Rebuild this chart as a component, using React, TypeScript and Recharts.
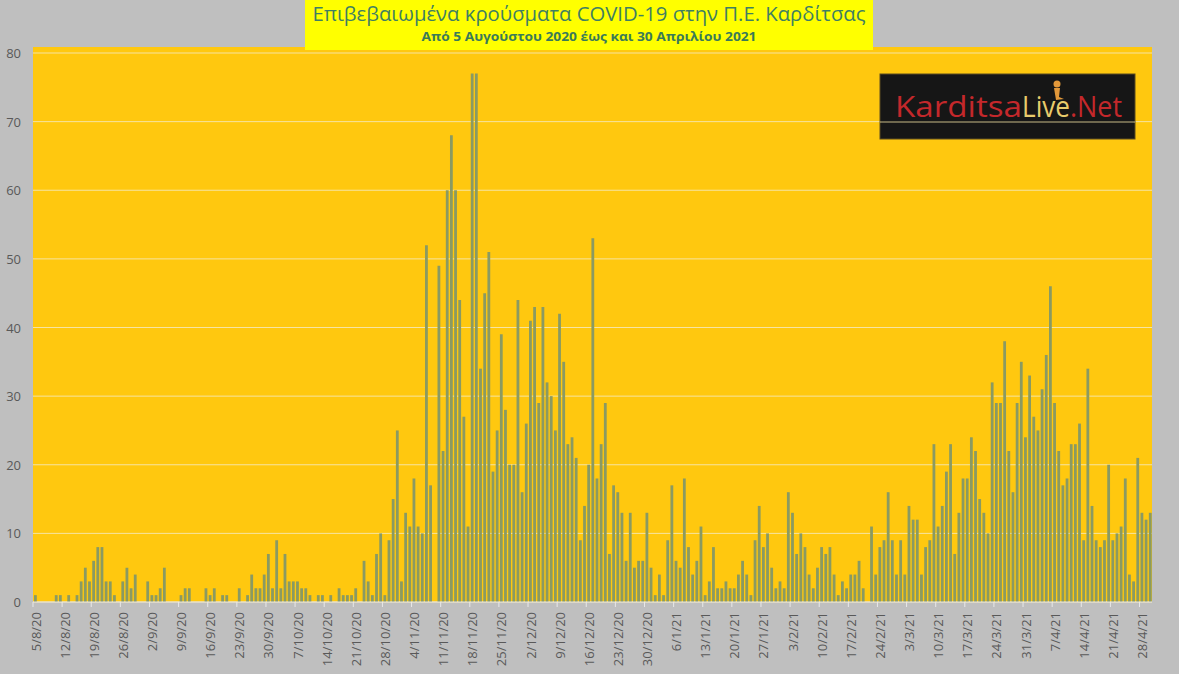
import React from 'react';
import { BarChart, Bar, XAxis, YAxis, CartesianGrid } from 'recharts';

// Daily confirmed cases, one array per month
const aug20 = [1,0,0,0,0, 1,1,0,1,0, 1,3,5,3,6, 8,8,3,3,1, 0,3,5,2,4, 0,0];
const sep20 = [3,1,1,2,5, 0,0,0,1,2, 2,0,0,0,2, 1,2,0,1,1, 0,0,2,0,1, 4,2,2,4,7];
const oct20 = [2,9,2,7,3, 3,3,2,2,1, 0,1,1,0,1, 0,2,1,1,1, 2,0,6,3,1, 7,10,1,9,15, 25];
const nov20 = [3,13,11,18,11, 10,52,17,0,49, 22,60,68,60,44, 27,11,77,77,34, 45,51,19,25,39, 28,20,20,44,16];
const dec20 = [26,41,43,29,43, 32,30,25,42,35, 23,24,21,9,14, 20,53,18,23,29, 7,17,16,13,6, 13,5,6,6,13, 5];
const jan21 = [1,4,1,9,17, 6,5,18,8,4, 6,11,1,3,8, 2,2,3,2,2, 4,6,4,1,9, 14,8,10,5,2, 3];
const feb21 = [2,16,13,7,10, 8,4,2,5,8, 7,8,4,1,3, 2,4,4,6,2, 0,11,4,8,9, 16,9,4];
const mar21 = [9,4,14,12,12, 4,8,9,23,11, 14,19,23,7,13, 18,18,24,22,15, 13,10,32,29,29, 38,22,16,29,35, 24];
const apr21 = [33,27,25,31,36, 46,29,22,17,18, 23,23,26,9,34, 14,9,8,9,20, 9,10,11,18,4, 3,21,13,12,13];

// Month keys for the date categories and the first day shown in each month
const monthKeys = ['8/20', '9/20', '10/20', '11/20', '12/20', '1/21', '2/21', '3/21', '4/21'];
const firstDays = [5, 1, 1, 1, 1, 1, 1, 1, 1];
const monthValues = [aug20, sep20, oct20, nov20, dec20, jan21, feb21, mar21, apr21];

const yTicks = [0, 10, 20, 30, 40, 50, 60, 70, 80];

const TITLE = 'Επιβεβαιωμένα κρούσματα COVID-19 στην Π.Ε. Καρδίτσας';
const SUBTITLE = 'Από 5 Αυγούστου 2020 έως και 30 Απριλίου 2021';

const data = monthValues.flatMap((vals, m) =>
  vals.map((v, i) => ({ date: `${firstDays[m] + i}/${monthKeys[m]}`, cases: v }))
);

const W = 1179;
const H = 674;
const PLOT_TOP = 53;
const PLOT_LEFT = 33;
const PLOT_RIGHT = 1152;
const PLOT_BOTTOM = 602;
const BAND = (PLOT_RIGHT - PLOT_LEFT) / data.length;
const FONT = '"Open Sans", "DejaVu Sans", sans-serif';

const XTick = (props: any) => {
  const { x, payload } = props;
  const bx = x - BAND / 2;
  return (
    <g>
      <line x1={bx} x2={bx} y1={PLOT_BOTTOM} y2={PLOT_BOTTOM + 5} stroke="#E8E8E8" strokeWidth={1} />
      <text
        transform={`translate(${bx + 7.5},${PLOT_BOTTOM + 10}) rotate(-90)`}
        textAnchor="end"
        fontSize={13}
        fill="#595959"
        fontFamily={FONT}
      >
        {payload.value}
      </text>
    </g>
  );
};

const YTick = (props: any) => {
  const { y, payload } = props;
  return (
    <text x={21} y={y} textAnchor="end" dominantBaseline="central" fontSize={13} fill="#595959" fontFamily={FONT}>
      {payload.value}
    </text>
  );
};

export default function App() {
  return (
    <div style={{ position: 'fixed', left: 0, top: 0, width: W, height: H, background: '#BFBFBF', overflow: 'hidden' }}>
      <div
        style={{
          position: 'absolute',
          left: PLOT_LEFT,
          top: 47,
          width: PLOT_RIGHT - PLOT_LEFT,
          height: PLOT_BOTTOM - 47,
          background: '#FFC80F',
        }}
      />
      <div style={{ position: 'absolute', left: 0, top: 0 }}>
        <BarChart
          width={W}
          height={H}
          data={data}
          margin={{ top: PLOT_TOP, right: W - PLOT_RIGHT, bottom: 0, left: 0 }}
          barCategoryGap="35%"
        >
          <CartesianGrid vertical={false} stroke="#F6E4A2" strokeWidth={1} />
          <XAxis
            dataKey="date"
            interval={6}
            height={H - PLOT_BOTTOM}
            tickLine={false}
            axisLine={{ stroke: '#E2E2E2', strokeWidth: 1 }}
            tick={<XTick />}
          />
          <YAxis
            type="number"
            domain={[0, 80]}
            ticks={yTicks}
            width={PLOT_LEFT}
            tickLine={false}
            axisLine={false}
            tick={<YTick />}
          />
          <Bar dataKey="cases" fill="#8A9A62" barSize={2.8} isAnimationActive={false} />
        </BarChart>
      </div>
      <svg width={W} height={H} style={{ position: 'absolute', left: 0, top: 0, pointerEvents: 'none' }}>
        <rect x={305} y={0} width={568} height={50} fill="#FFFF00" />
        <text x={589} y={21} textAnchor="middle" fontSize={19.5} fill="#3F7F62" fontFamily={FONT} textLength={553} lengthAdjust="spacingAndGlyphs">
          {TITLE}
        </text>
        <text x={589} y={41} textAnchor="middle" fontSize={12} fontWeight="bold" fill="#3A7A58" fontFamily={FONT} textLength={335} lengthAdjust="spacingAndGlyphs">
          {SUBTITLE}
        </text>
        <rect x={880} y={74} width={255} height={65} fill="#161616" stroke="#5a4a20" strokeWidth={1} />
        <text x={895} y={117} fontSize={29} fill="#C4282B" fontFamily={FONT} textLength={127} lengthAdjust="spacingAndGlyphs">Karditsa</text>
        <text x={1022} y={117} fontSize={29} fill="#E8CB6C" fontFamily={FONT} textLength={48} lengthAdjust="spacingAndGlyphs">Live</text>
        <text x={1070} y={117} fontSize={29} fill="#C4282B" fontFamily={FONT} textLength={52} lengthAdjust="spacingAndGlyphs">.Net</text>
        <circle cx={1057} cy={84} r={3.5} fill="#E2983A" />
        <path d="M1054 88 L1060 88 L1059 97 L1064 99 L1056 100 Z" fill="#E2983A" />
        <line x1={880} x2={1135} y1={122} y2={122} stroke="#F6E4A2" strokeWidth={1} opacity={0.8} />
      </svg>
    </div>
  );
}
